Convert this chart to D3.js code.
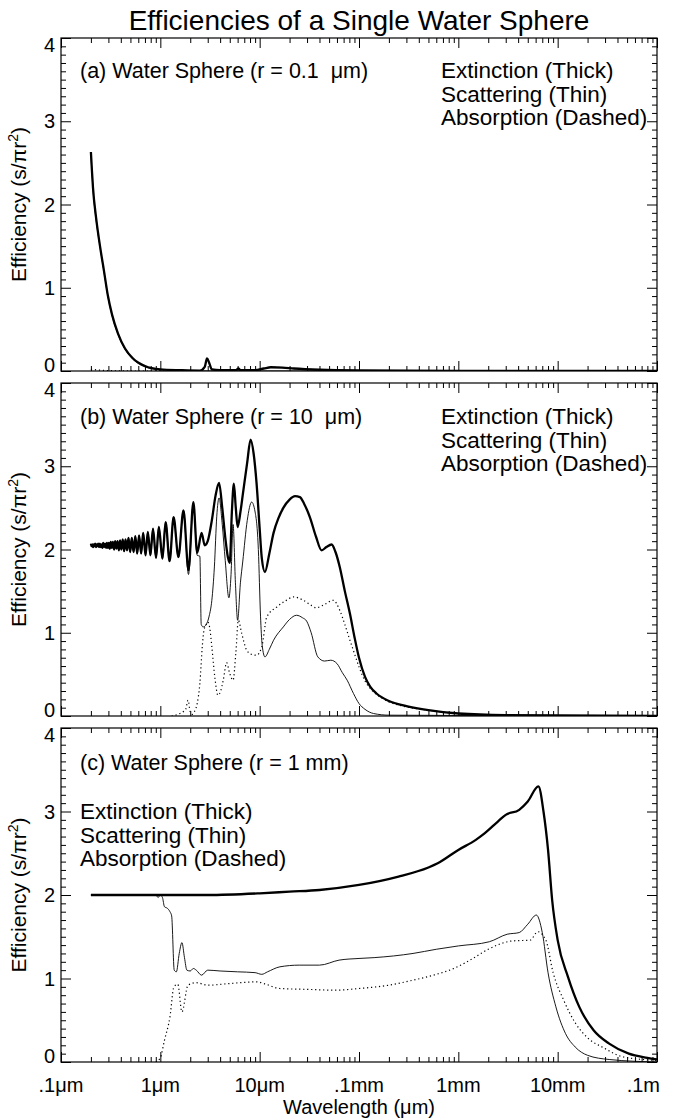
<!DOCTYPE html>
<html>
<head>
<meta charset="utf-8">
<script src="https://cdnjs.cloudflare.com/ajax/libs/d3/7.8.5/d3.min.js"></script>
<style>
  html, body { margin: 0; padding: 0; background: #fff; }
  text { font-family: "Liberation Sans", Arial, Helvetica, sans-serif; fill: #000; white-space: pre; }
</style>
</head>
<body>
<svg id="chart" width="676" height="1120"></svg>
<script>
// ---------------- DATA ----------------
const chartTitle = "Efficiencies of a Single Water Sphere";
const panelTitles = ["(a) Water Sphere (r = 0.1  \u03bcm)", "(b) Water Sphere (r = 10  \u03bcm)", "(c) Water Sphere (r = 1 mm)"];
const legendLabels = ["Extinction (Thick)", "Scattering (Thin)", "Absorption (Dashed)"];
const xTickValues = [0.1, 1, 10, 100, 1000, 10000, 100000];
const xTickLabels = [".1\u03bcm", "1\u03bcm", "10\u03bcm", ".1mm", "1mm", "10mm", ".1m"];
const yTickValues = [0, 1, 2, 3, 4];
const xAxisTitle = "Wavelength (\u03bcm)";

// Panel (a): r = 0.1 um  (wavelength in um)
const aExtWl = [0.2,0.205,0.21,0.225,0.247,0.271,0.297,0.326,0.375,0.441,0.531,0.7,1.0,1.6,2.5,2.8,2.95,3.1,3.3,4,5.8,6.1,6.4,9,11,13,17,22,40,100,1000,100000];
const aExt   = [2.63,2.4,2.2,1.85,1.5,1.2,0.9,0.68,0.45,0.27,0.15,0.06,0.02,0.01,0.005,0.05,0.15,0.1,0.02,0.01,0.01,0.03,0.01,0.01,0.03,0.045,0.04,0.03,0.015,0.006,0.001,0];
const aScaWl = [0.2,0.205,0.21,0.225,0.247,0.271,0.297,0.326,0.375,0.441,0.531,0.7,1.0,1.6,3,10,100000];
const aSca   = [2.6,2.38,2.18,1.83,1.49,1.19,0.89,0.67,0.44,0.26,0.14,0.05,0.015,0.004,0.001,0,0];
const aAbsWl = [0.2,0.3,0.6,2.5,2.8,2.95,3.1,3.3,4,5.8,6.1,6.4,9,11,13,17,22,40,100,1000,100000];
const aAbs   = [0.02,0.005,0,0.005,0.05,0.15,0.1,0.02,0.01,0.01,0.03,0.01,0.01,0.03,0.045,0.04,0.03,0.015,0.006,0.001,0];

// Panel (b): r = 10 um
const bExtWl = [0.200,0.2035,0.207,0.2105,0.214,0.2175,0.221,0.225,0.229,0.233,0.237,0.2415,0.246,0.251,0.256,0.261,0.266,0.272,0.278,0.284,0.290,0.2965,0.303,0.310,0.317,0.325,0.333,0.342,0.351,0.361,0.371,0.382,0.393,0.405,0.418,0.432,0.446,0.462,0.478,0.497,0.516,0.538,0.560,0.585,0.611,0.641,0.672,0.71,0.748,0.795,0.843,0.905,0.966,1.05,1.13,1.24,1.36,1.52,1.71,1.92,2.15,2.35,2.6,2.8,3.0,3.3,3.6,3.9,4.2,4.5,4.8,5.0,5.25,5.5,5.75,6.0,6.4,6.8,7.5,8.1,8.7,9.3,10.0,10.5,11.3,12.5,13.8,15.5,17.3,20,22.7,25.4,28,32,37,42,47,53,58,64,72,81,90,100,115,130,150,200,300,500,1000,3000,100000];
const bExt   = [2.07,2.04,2.06,2.03,2.06,2.04,2.07,2.03,2.06,2.04,2.07,2.03,2.07,2.03,2.06,2.02,2.08,2.03,2.07,2.02,2.08,2.02,2.08,2.01,2.09,2.02,2.09,2.00,2.10,2.01,2.10,1.99,2.11,2.00,2.12,1.98,2.12,1.99,2.14,1.97,2.14,1.97,2.16,1.95,2.17,1.95,2.20,1.93,2.21,1.93,2.25,1.90,2.27,1.89,2.33,1.86,2.39,1.91,2.47,1.75,2.57,1.96,2.2,2.05,2.1,2.35,2.65,2.8,2.5,2.15,1.9,1.84,2.45,2.79,2.5,2.27,2.45,2.68,3.05,3.32,3.15,2.8,2.25,1.9,1.73,1.95,2.2,2.38,2.5,2.6,2.64,2.63,2.55,2.39,2.15,1.99,2.03,2.06,1.97,1.79,1.5,1.23,0.95,0.7,0.47,0.35,0.27,0.18,0.12,0.07,0.03,0.01,0];
const bScaWl = [0.200,0.2035,0.207,0.2105,0.214,0.2175,0.221,0.225,0.229,0.233,0.237,0.2415,0.246,0.251,0.256,0.261,0.266,0.272,0.278,0.284,0.290,0.2965,0.303,0.310,0.317,0.325,0.333,0.342,0.351,0.361,0.371,0.382,0.393,0.405,0.418,0.432,0.446,0.462,0.478,0.497,0.516,0.538,0.560,0.585,0.611,0.641,0.672,0.71,0.748,0.795,0.843,0.905,0.966,1.05,1.13,1.24,1.36,1.52,1.71,1.92,2.15,2.35,2.5,2.58,2.7,2.9,3.1,3.3,3.5,3.7,3.9,4.2,4.5,4.9,5.15,5.4,5.7,6.0,6.4,6.75,7.5,8.3,9.0,9.7,10.2,10.6,11.3,12.5,13.8,17.3,20,23.5,27,29.7,33,38.5,45,52,60,68,76,88,100,115,140,200,100000];
const bSca   = [2.07,2.04,2.06,2.03,2.06,2.04,2.07,2.03,2.06,2.04,2.07,2.03,2.07,2.03,2.06,2.02,2.08,2.03,2.07,2.02,2.08,2.02,2.08,2.01,2.09,2.02,2.09,2.00,2.10,2.01,2.10,1.99,2.11,2.00,2.12,1.98,2.12,1.99,2.14,1.97,2.14,1.97,2.16,1.95,2.17,1.95,2.20,1.93,2.21,1.93,2.25,1.90,2.27,1.89,2.33,1.86,2.39,1.90,2.47,1.70,2.55,1.93,1.92,1.1,1.07,1.1,1.2,1.39,1.79,2.4,2.62,2.3,1.87,1.42,1.7,2.3,1.6,1.15,1.6,1.85,2.35,2.57,2.45,2.0,1.2,0.85,0.71,0.8,0.91,1.07,1.16,1.21,1.18,1.14,1.0,0.71,0.66,0.67,0.63,0.52,0.43,0.27,0.15,0.08,0.03,0.01,0];
const bAbsWl = [1.3,1.5,1.8,1.9,2.0,2.1,2.2,2.35,2.5,2.65,2.75,2.9,3.0,3.15,3.3,3.55,3.8,4.05,4.3,4.65,5.0,5.4,5.75,6.1,6.6,7.4,8.3,9.3,10.5,11.8,14.9,18,22,27.5,32,37,45,55,64,72,81,90,100,115,130,150,200,300,500,1000,3000,100000];
const bAbs   = [0,0.02,0.08,0.19,0.05,0.02,0.05,0.15,0.39,0.85,1.03,1.1,1.13,1.05,0.83,0.45,0.25,0.3,0.43,0.64,0.51,0.43,0.75,1.15,0.99,0.79,0.74,0.73,0.83,1.19,1.31,1.38,1.43,1.39,1.34,1.3,1.34,1.39,1.27,1.1,0.91,0.75,0.59,0.42,0.33,0.26,0.17,0.11,0.07,0.03,0.01,0];

// Panel (c): r = 1 mm
const cExtWl = [0.2,1,3,10,20,40,100,250,500,620,1000,1500,1850,2500,3000,4100,5000,6400,7200,8000,8800,10000,12700,16500,23000,33000,52000,80000,100000];
const cExt   = [2.0,2.0,2.0,2.02,2.04,2.06,2.12,2.22,2.33,2.38,2.54,2.66,2.74,2.88,2.96,3.02,3.12,3.3,3.0,2.54,1.94,1.46,1.02,0.66,0.38,0.22,0.1,0.05,0.03];
const cScaWl = [0.2,0.9,0.95,1.0,1.05,1.1,1.18,1.25,1.3,1.38,1.45,1.55,1.65,1.75,1.85,2.0,2.15,2.3,2.6,3.0,4,6,9,10.5,12,16,25,40,63,100,142,350,600,1000,2050,3100,4100,5000,6100,7000,8000,9600,12000,15000,20000,33000,100000];
const cSca   = [2.0,2.0,1.97,2.0,1.97,1.86,1.84,1.8,1.75,1.1,1.08,1.3,1.43,1.25,1.1,1.09,1.12,1.1,1.04,1.1,1.09,1.08,1.07,1.05,1.08,1.14,1.16,1.16,1.22,1.24,1.25,1.3,1.35,1.39,1.44,1.53,1.55,1.65,1.76,1.55,1.07,0.66,0.34,0.18,0.08,0.03,0];
const cAbsWl = [0.9,1.0,1.1,1.25,1.37,1.5,1.65,1.9,2.3,3,5,9.4,11,16,30,58,100,200,350,600,900,1400,2000,3500,5300,6300,7600,9000,11500,15000,20000,29000,46000,100000];
const cAbs   = [0,0.05,0.26,0.54,0.9,0.93,0.6,0.92,0.95,0.92,0.94,0.96,0.94,0.88,0.87,0.86,0.88,0.92,0.98,1.05,1.12,1.24,1.35,1.45,1.46,1.56,1.46,1.07,0.74,0.47,0.29,0.17,0.06,0.02];

// ---------------- LAYOUT ----------------
const svg = d3.select("#chart");
const L = 61, R = 657;
const panelBoxes = [{top: 38, bottom: 371}, {top: 383, bottom: 716}, {top: 728, bottom: 1062}];

const x = d3.scaleLog().domain([0.1, 1e5]).range([L, R]);

const panels = [
  {series: [[aAbsWl, aAbs], [aScaWl, aSca], [aExtWl, aExt]], legendX: 441, legendY: 78, titleY: 78},
  {series: [[bAbsWl, bAbs], [bScaWl, bSca], [bExtWl, bExt]], legendX: 441, legendY: 424, titleY: 424},
  {series: [[cAbsWl, cAbs], [cScaWl, cSca], [cExtWl, cExt]], legendX: 80, legendY: 819, titleY: 770}
];
const styles = [
  {w: 1.2, dash: "1.2,2.8"},
  {w: 0.9, dash: null},
  {w: 2.3, dash: null}
];

// minor ticks for log axis
const xMinor = [];
for (let d = 0.1; d < 1e5; d *= 10) for (let k = 2; k <= 9; k++) xMinor.push(d * k);
const yMinor = d3.range(0, 41).map(i => i / 10).filter(v => Math.abs(v - Math.round(v)) > 1e-6);

panels.forEach((p, i) => {
  const box = panelBoxes[i];
  const y = d3.scaleLinear().domain([0, 4]).range([box.bottom, box.top]);
  const g = svg.append("g");

  const clipId = "clip" + i;
  svg.append("clipPath").attr("id", clipId).append("rect")
    .attr("x", L).attr("y", box.top - 2).attr("width", R - L).attr("height", box.bottom - box.top + 2);

  // curves
  const line = d3.line().x(d => x(d[0])).y(d => y(d[1])).curve(d3.curveMonotoneX);
  p.series.forEach((s, k) => {
    const pts = s[0].map((w, j) => [w, s[1][j]]);
    const path = g.append("path").datum(pts)
      .attr("d", line).attr("fill", "none").attr("stroke", "#000")
      .attr("stroke-width", styles[k].w).attr("stroke-linejoin", "round")
      .attr("clip-path", `url(#${clipId})`);
    if (styles[k].dash) path.attr("stroke-dasharray", styles[k].dash);
  });

  // frame
  g.append("rect").attr("x", L).attr("y", box.top).attr("width", R - L).attr("height", box.bottom - box.top)
    .attr("fill", "none").attr("stroke", "#000").attr("stroke-width", 1.2);

  // x ticks (bottom and top, inward)
  const axB = d3.axisBottom(x).tickValues(xTickValues).tickSize(-10).tickFormat("");
  const axBm = d3.axisBottom(x).tickValues(xMinor).tickSize(-5).tickFormat("");
  const axT = d3.axisTop(x).tickValues(xTickValues).tickSize(-10).tickFormat("");
  const axTm = d3.axisTop(x).tickValues(xMinor).tickSize(-5).tickFormat("");
  [[axB, box.bottom], [axBm, box.bottom], [axT, box.top], [axTm, box.top]].forEach(([a, yy]) => {
    const ga = g.append("g").attr("transform", `translate(0,${yy})`).call(a);
    ga.select(".domain").remove();
    ga.selectAll("line").attr("stroke", "#000").attr("stroke-width", 1);
  });
  // y ticks (left and right, inward)
  const ayL = d3.axisLeft(y).tickValues(yTickValues).tickSize(-10).tickFormat("");
  const ayLm = d3.axisLeft(y).tickValues(yMinor).tickSize(-5).tickFormat("");
  const ayR = d3.axisRight(y).tickValues(yTickValues).tickSize(-10).tickFormat("");
  const ayRm = d3.axisRight(y).tickValues(yMinor).tickSize(-5).tickFormat("");
  [[ayL, L], [ayLm, L], [ayR, R], [ayRm, R]].forEach(([a, xx]) => {
    const ga = g.append("g").attr("transform", `translate(${xx},0)`).call(a);
    ga.select(".domain").remove();
    ga.selectAll("line").attr("stroke", "#000").attr("stroke-width", 1);
  });

  // y tick labels (end labels nudged inside the panel like the original)
  g.selectAll(".ylab").data(yTickValues).enter().append("text")
    .attr("x", 55)
    .attr("y", d => y(d) + (d === 0 ? 1 : d === 4 ? 14 : 7))
    .attr("text-anchor", "end")
    .attr("font-size", 20).text(d => d);

  // y axis title
  const mid = (box.top + box.bottom) / 2;
  const yt = g.append("text").attr("transform", `translate(26,${mid}) rotate(-90)`)
    .attr("text-anchor", "middle").attr("font-size", 21);
  yt.append("tspan").text("Efficiency (s/\u03c0r");
  yt.append("tspan").attr("dy", -8).attr("font-size", 14).text("2");
  yt.append("tspan").attr("dy", 8).text(")");

  // panel title
  g.append("text").attr("x", 80).attr("y", p.titleY).attr("font-size", 21.5).text(panelTitles[i]);

  // legend
  legendLabels.forEach((t, k) => {
    g.append("text").attr("x", p.legendX).attr("y", p.legendY + k * 23.5).attr("font-size", 22.5).text(t);
  });
});

// x tick labels under last panel
const lastBottom = panelBoxes[2].bottom;
svg.selectAll(".xlab").data(xTickValues).enter().append("text")
  .attr("x", (d, i) => i === xTickValues.length - 1 ? x(d) + 3 : x(d))
  .attr("y", lastBottom + 30)
  .attr("text-anchor", (d, i) => i === xTickValues.length - 1 ? "end" : "middle")
  .attr("font-size", 20).text((d, i) => xTickLabels[i]);

svg.append("text").attr("x", (L + R) / 2).attr("y", 1114).attr("text-anchor", "middle")
  .attr("font-size", 20).text(xAxisTitle);

svg.append("text").attr("x", (L + R) / 2).attr("y", 30).attr("text-anchor", "middle")
  .attr("font-size", 28).text(chartTitle);
</script>
</body>
</html>
